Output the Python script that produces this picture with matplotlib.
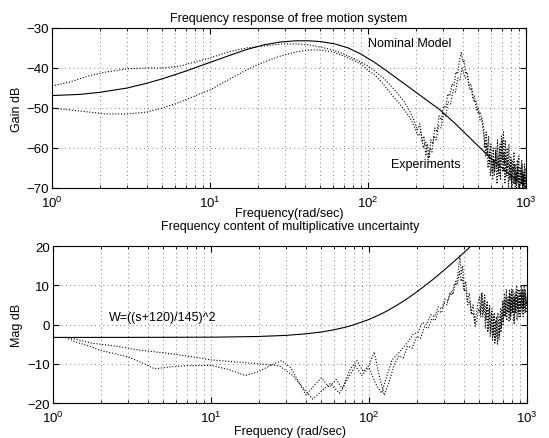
import matplotlib.pyplot as plt

plt.rcParams['font.family'] = ['Liberation Sans', 'DejaVu Sans']
plt.rcParams['mathtext.default'] = 'regular'

# nominal model magnitude (rad/s, dB)
nom_w = [1, 1.5, 2, 3, 4, 5, 7, 10, 13, 17, 22, 28, 35, 42, 50, 62, 75, 90, 110,
         130, 160, 200, 250, 280, 350, 450, 600, 800, 1000]
nom_db = [-46.9, -46.6, -46.1, -45.0, -43.8, -42.7, -40.8, -38.6, -37.0, -35.4, -34.2,
          -33.5, -33.2, -33.2, -33.4, -34.0, -35.0, -36.5, -38.6, -40.6, -43.2, -46.0,
          -48.8, -50.2, -53.6, -57.8, -62.6, -66.8, -69.8]

# measured responses, two runs: low/mid band, resonance band, high-frequency band
exp1_lo_w = [1, 1.3, 1.7, 2.2, 3, 4, 5, 6.5, 8, 10, 13, 17, 22, 28, 35, 42, 50, 60, 70,
             80, 90, 100, 112, 125, 140, 155, 170, 185]
exp1_lo_db = [-44.5, -43.5, -42, -41, -40.2, -40, -40, -39.5, -38.5, -37.5, -36, -35,
              -34.5, -34, -34, -34.2, -34.8, -35.5, -36.5, -37.5, -38.5, -39.5, -41,
              -42.5, -44.5, -46.5, -48.5, -51]
exp1_md_w = [195, 205, 213, 220, 226, 232, 238, 244, 250, 257, 265, 273, 282, 291, 300,
             310, 320, 330, 340, 350, 360, 370, 380, 390, 398, 406, 415, 425, 436, 448,
             460, 472, 485, 498, 512, 526]
exp1_md_db = [-53, -55.5, -54, -58.5, -57, -62, -59, -62.5, -58, -59, -55, -56, -52, -53,
              -49.5, -50, -46.5, -47, -44, -44.5, -41, -41.5, -38, -36, -38.5, -38,
              -41.5, -41, -44.5, -44, -47.5, -47, -50.5, -50, -53, -52.5]
exp1_hi_w = [540, 550, 560, 570, 580, 590, 600, 610, 620, 630, 640, 650, 660, 670, 680,
             690, 700, 710, 720, 730, 740, 750, 760, 770, 780, 790, 800, 810, 820, 830,
             840, 850, 860, 870, 880, 890, 900, 910, 920, 930, 940, 950, 960, 970, 980,
             990, 1000]
exp1_hi_db = [-55, -60, -56, -62, -57, -64, -59, -66, -60, -67, -61, -65, -58, -66, -60,
              -68, -57, -63, -56, -64, -58, -67, -60, -65, -59, -68, -62, -69, -63, -66,
              -61, -69, -64, -70, -63, -68, -62, -70, -65, -69, -63, -70, -66, -69, -64,
              -70, -67]

exp2_lo_w = [1, 1.3, 1.7, 2.2, 3, 4, 5, 6.5, 8, 10, 13, 17, 22, 28, 35, 42, 50, 60, 70,
             80, 90, 100, 112, 125, 140, 155, 170, 185]
exp2_lo_db = [-50, -50.5, -51, -51.5, -51.5, -51, -50, -48.5, -47, -45.5, -43, -40.5,
              -38.5, -37, -36, -35.5, -35.5, -36, -37, -38, -39, -40.5, -42, -44, -46.5,
              -48.5, -50.5, -52.5]
exp2_md_w = [198, 208, 216, 224, 232, 240, 247, 254, 262, 270, 280, 290, 300, 310, 322,
             334, 346, 358, 370, 382, 394, 404, 414, 426, 440, 454, 468, 482, 498, 514,
             530]
exp2_md_db = [-55, -57, -56, -60, -58.5, -63, -60, -61, -57, -58, -54.5, -55, -51.5, -52,
              -48.5, -49, -45.5, -46, -42.5, -43, -40, -41.5, -42.5, -42, -45.5, -45,
              -48.5, -48, -51.5, -51, -54]
exp2_hi_w = [545, 555, 565, 575, 585, 595, 605, 615, 625, 635, 645, 655, 665, 675, 685,
             695, 705, 715, 725, 735, 745, 755, 765, 775, 785, 795, 805, 815, 825, 835,
             845, 855, 865, 875, 885, 895, 905, 915, 925, 935, 945, 955, 965, 975, 985,
             995]
exp2_hi_db = [-58, -62, -59, -65, -61, -67, -62, -68, -63, -66, -60, -69, -62, -67, -59,
              -64, -58, -66, -61, -69, -62, -67, -63, -70, -64, -68, -63, -70, -65, -69,
              -64, -70, -66, -69, -65, -70, -67, -70, -66, -69, -64, -70, -67, -70, -65,
              -69]

# uncertainty weight W=((s+120)/145)^2, magnitude in dB
wt_w = [1, 3, 10, 20, 30, 40, 50, 60, 70, 80, 100, 120, 130, 150, 170, 200, 250, 300,
        350, 400, 450]
wt_db = [-3.29, -3.28, -3.23, -3.05, -2.76, -2.37, -1.90, -1.35, -0.74, -0.09, 1.29,
         2.73, 3.46, 4.89, 6.27, 8.26, 11.26, 13.92, 16.27, 18.38, 20.27]

# multiplicative uncertainty from the two runs
unc1_lo_w = [1.2, 1.4, 1.7, 2, 2.5, 3, 3.6, 4.4, 5.5, 7, 10, 13, 16.5, 20, 25, 28, 32,
             36, 40, 45, 50, 56, 62, 68, 76, 84, 92, 100, 108, 116, 125, 134]
unc1_lo_db = [-3.3, -4.5, -5.5, -6.6, -7.5, -8.3, -9.6, -11.3, -10.8, -10.5, -10.4,
              -11.5, -13, -12, -10, -9.2, -11, -14.7, -18, -15.5, -13.6, -16, -14, -16.4,
              -11.3, -9.2, -12, -10.4, -7, -13, -18, -14.7]
unc1_md_w = [145, 155, 165, 175, 188, 200, 212, 225, 238, 250, 262, 275, 288, 300, 312,
             324, 336, 348, 358, 368, 376, 384, 392, 400, 410, 420, 432, 444, 456, 468,
             480, 492]
unc1_md_db = [-10, -8, -8.5, -5.5, -6, -3, -3.5, -0.5, -1, 1.5, 1, 3.5, 3, 5.5, 5, 8,
              7.5, 10.5, 10, 14, 17.5, 13, 15, 9, 11, 6, 8, 3, 5, 0.5, 3, 6]
unc1_hi_w = [500, 510, 520, 530, 540, 550, 560, 570, 580, 590, 600, 610, 620, 630, 640,
             650, 660, 670, 680, 690, 700, 710, 720, 730, 740, 750, 760, 770, 780, 790,
             800, 810, 820, 830, 840, 850, 860, 870, 880, 890, 900, 910, 920, 930, 940,
             950, 960, 970, 980, 990, 1000]
unc1_hi_db = [7, 2, 8, 3, 7.5, 1, 6, -1, 5, -2, 4, -3, 3, -4, 2, -5, 1, -3, 4, -1, 6, 1,
              8, 2, 9, 3, 7, 1, 8, 2, 9, 3, 7, 0, 8, 3, 10, 4, 9, 2, 8, 4, 10, 3, 9, 4, 10,
              3, 8, 5, 7]

unc2_lo_w = [1.3, 1.8, 2.5, 3.5, 5, 7, 10, 14, 20, 27, 33, 38, 44, 50, 57, 65, 73, 82,
             90, 100, 110, 120, 130]
unc2_lo_db = [-3.5, -4.8, -5.5, -6.5, -7.2, -8, -9, -9.5, -10, -10.5, -13, -16, -19,
              -17, -15, -17.5, -14, -10.5, -13, -11, -15, -17.5, -13]
unc2_md_w = [140, 152, 164, 176, 190, 204, 218, 232, 246, 260, 274, 288, 302, 316, 330,
             342, 354, 364, 374, 382, 390, 400, 410, 422, 434, 446, 458, 470, 482, 494]
unc2_md_db = [-9, -7.5, -6, -4.5, -2.5, -2, 0.5, 0, 2.5, 2, 4.5, 4, 6.5, 6, 8.5, 8, 11,
              10.5, 13.5, 11, 12, 8.5, 9, 5, 6, 2.5, 3, -0.5, 1, 4]
unc2_hi_w = [505, 515, 525, 535, 545, 555, 565, 575, 585, 595, 605, 615, 625, 635, 645,
             655, 665, 675, 685, 695, 705, 715, 725, 735, 745, 755, 765, 775, 785, 795,
             805, 815, 825, 835, 845, 855, 865, 875, 885, 895, 905, 915, 925, 935, 945,
             955, 965, 975, 985, 995]
unc2_hi_db = [3, 8, 2, 6, -1, 5, -2, 4, -3, 3, -4, 2, -5, 1, -3, 3, -4, 2, -2, 4, 0, 6,
              2, 7, 1, 6, 3, 9, 1, 7, 3, 9, 1, 7, 3, 9, 1, 7, 3, 9, 2, 8, 4, 9, 2, 8, 4,
              9, 3, 6]

exp1_w = exp1_lo_w + exp1_md_w + exp1_hi_w
exp1_db = exp1_lo_db + exp1_md_db + exp1_hi_db
exp2_w = exp2_lo_w + exp2_md_w + exp2_hi_w
exp2_db = exp2_lo_db + exp2_md_db + exp2_hi_db
unc1_w = unc1_lo_w + unc1_md_w + unc1_hi_w
unc1_db = unc1_lo_db + unc1_md_db + unc1_hi_db
unc2_w = unc2_lo_w + unc2_md_w + unc2_hi_w
unc2_db = unc2_lo_db + unc2_md_db + unc2_hi_db

fig = plt.figure(figsize=(5.49, 4.39), dpi=100)
ax1 = fig.add_axes([0.0947, 0.5695, 0.8634, 0.3645])
ax2 = fig.add_axes([0.0965, 0.0797, 0.8634, 0.3576])

dots = (0, (1, 1.6))
for ax in (ax1, ax2):
    ax.set_xscale('log')
    ax.set_xlim(1, 1000)
    ax.grid(True, which='both', color='0.35', linestyle=(0, (1, 4)), linewidth=0.6)
    ax.tick_params(which='both', direction='in', top=True, right=True, labelsize=9.5)
    ax.tick_params(axis='y', pad=2)
    ax.tick_params(axis='x', pad=5)
    ax.tick_params(which='major', length=4)
    ax.tick_params(which='minor', length=2)
    for s in ax.spines.values():
        s.set_linewidth(0.8)

ax1.plot(exp1_w, exp1_db, color='k', ls=dots, lw=0.8)
ax1.plot(exp2_w, exp2_db, color='k', ls=dots, lw=0.8)
ax1.plot(nom_w, nom_db, color='k', lw=0.8)
ax1.set_ylim(-70, -30)
ax1.set_yticks([-70, -60, -50, -40, -30])
ax1.set_title('Frequency response of free motion system', fontsize=9, pad=5)
ax1.set_xlabel('Frequency(rad/sec)', fontsize=9, labelpad=-2)
ax1.set_ylabel('Gain dB', fontsize=9, labelpad=3)
ax1.text(100, -33.8, 'Nominal Model', fontsize=9, va='center')
ax1.text(140, -64, 'Experiments', fontsize=9, va='center')

ax2.plot(unc1_w, unc1_db, color='k', ls=dots, lw=0.8)
ax2.plot(unc2_w, unc2_db, color='k', ls=dots, lw=0.8)
ax2.plot(wt_w, wt_db, color='k', lw=0.8)
ax2.set_ylim(-20, 20)
ax2.set_yticks([-20, -10, 0, 10, 20])
ax2.set_title('Frequency content of multiplicative uncertainty', fontsize=9, pad=12)
ax2.set_xlabel('Frequency (rad/sec)', fontsize=9, labelpad=0)
ax2.set_ylabel('Mag dB', fontsize=9, labelpad=3)
ax2.text(2.26, 1.9, 'W=((s+120)/145)^2', fontsize=9, va='center')

fig.savefig('out.png', dpi=100)
